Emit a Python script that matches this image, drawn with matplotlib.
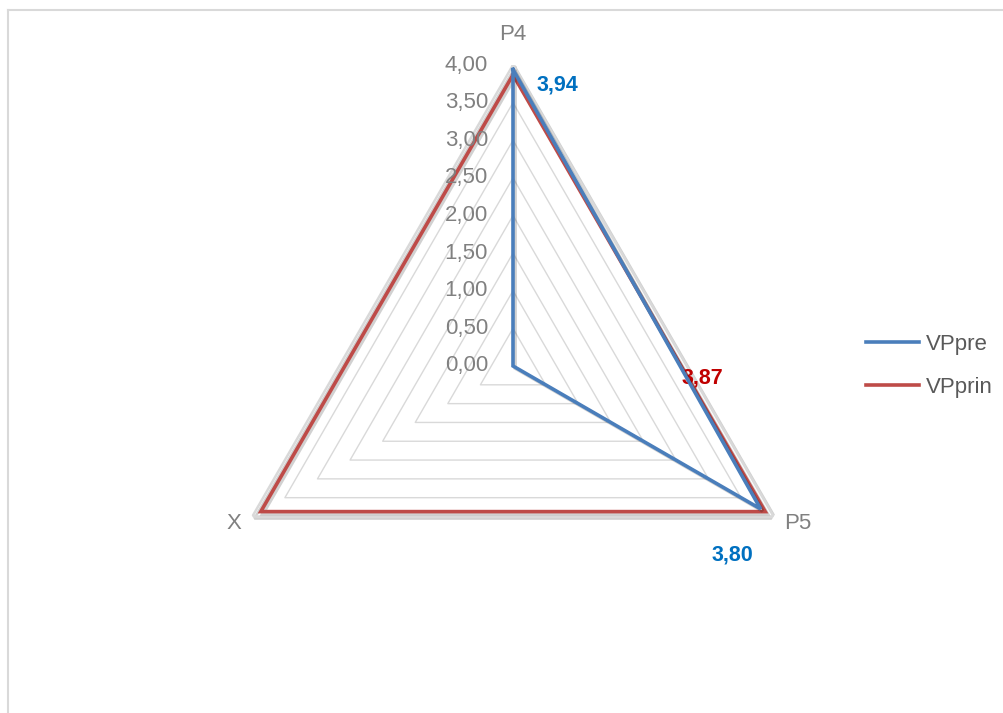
import numpy as np
import matplotlib
matplotlib.use("Agg")
import matplotlib.pyplot as plt
import matplotlib.patheffects as pe
from matplotlib.lines import Line2D

# data
axes_names = ["P4", "P5", "X"]
vp_pre = [3.94, 3.80, 0.0]
vp_prin = [3.87, 3.87, 3.87]
grid_levels = [0.5, 1.0, 1.5, 2.0, 2.5, 3.0, 3.5, 4.0]
tick_values = [0.0, 0.5, 1.0, 1.5, 2.0, 2.5, 3.0, 3.5, 4.0]

plt.rcParams['font.family'] = ['Liberation Sans', 'DejaVu Sans']

BLUE = "#4a7ebb"
RED = "#be4b48"
GRID = "#d9d9d9"
TXT = "#808080"

fig = plt.figure(figsize=(10.04, 7.13), dpi=100)
# polar axes centred on (513, 366) px, radius 301 px
W, H = 1004, 713
cx, cy, R = 513, 366, 301
ax = fig.add_axes([(cx - R) / W, (H - cy - R) / H, 2 * R / W, 2 * R / H],
                  projection="polar")
ax.set_theta_offset(np.pi / 2)
ax.set_theta_direction(-1)
ax.set_ylim(0, 4)
ax.axis("off")

angles = np.arange(len(axes_names)) * 2 * np.pi / len(axes_names)
closed = np.append(angles, angles[0])

shadow = [pe.SimpleLineShadow(offset=(1.5, -1.5), shadow_color="black", alpha=0.18),
          pe.Normal()]

for lvl in grid_levels:
    lw = 1.8 if lvl == 4.0 else 1.0
    ax.plot(closed, [lvl] * 4, color=GRID, lw=lw, zorder=1,
            path_effects=shadow if lvl == 4.0 else None)

ax.plot(closed, vp_pre + [vp_pre[0]], color=BLUE, lw=2.6, zorder=4,
        path_effects=shadow, solid_joinstyle="miter")
ax.plot(closed, vp_prin + [vp_prin[0]], color=RED, lw=2.6, zorder=3,
        path_effects=shadow, solid_joinstyle="miter")


def fmt(v):
    return f"{v:.2f}".replace(".", ",")


# radial tick labels on the P4 axis
for v in tick_values:
    ax.annotate(fmt(v), xy=(0, v), xytext=(-18, 0),
                textcoords="offset points", ha="right", va="center",
                fontsize=16, color=TXT)

# category labels
ax.annotate(axes_names[0], xy=(0, 4), xytext=(0, 22), textcoords="offset points",
            ha="center", va="center", fontsize=16, color=TXT)
ax.annotate(axes_names[1], xy=(angles[1], 4), xytext=(17, -5), textcoords="offset points",
            ha="center", va="center", fontsize=16, color=TXT)
ax.annotate(axes_names[2], xy=(angles[2], 4), xytext=(-13, -5), textcoords="offset points",
            ha="center", va="center", fontsize=16, color=TXT)

# data labels
lab = dict(fontsize=15.5, fontweight="bold", ha="center", va="center",
           textcoords="offset points")
ax.annotate(fmt(vp_pre[0]), xy=(0, vp_pre[0]), xytext=(32, -11),
            color="#0070c0", **lab)
ax.annotate(fmt(vp_pre[1]), xy=(angles[1], vp_pre[1]), xytext=(-20, -33),
            color="#0070c0", **lab)
ax.annotate(fmt(vp_prin[1]), xy=(angles[1], vp_prin[1]), xytext=(-45, 96),
            color="#c00000", **lab)

# legend
handles = [Line2D([], [], color=BLUE, lw=2.6), Line2D([], [], color=RED, lw=2.6)]
fig.legend(handles, ["VPpre", "VPprin"], loc="center left",
           bbox_to_anchor=(866 / W, 1 - 366 / H), frameon=False, fontsize=16,
           borderpad=0, borderaxespad=0,
           labelcolor="#595959", handlelength=2.4, handletextpad=0.3, labelspacing=1.0)

# light border of the chart area
fig.add_artist(Line2D([8.5 / W, 8.5 / W], [0, 1 - 9.5 / H], color=GRID, lw=1.5,
                      transform=fig.transFigure))
fig.add_artist(Line2D([8.5 / W, 1], [1 - 9.5 / H, 1 - 9.5 / H], color=GRID, lw=1.5,
                      transform=fig.transFigure))

fig.savefig("out.png", dpi=100)
